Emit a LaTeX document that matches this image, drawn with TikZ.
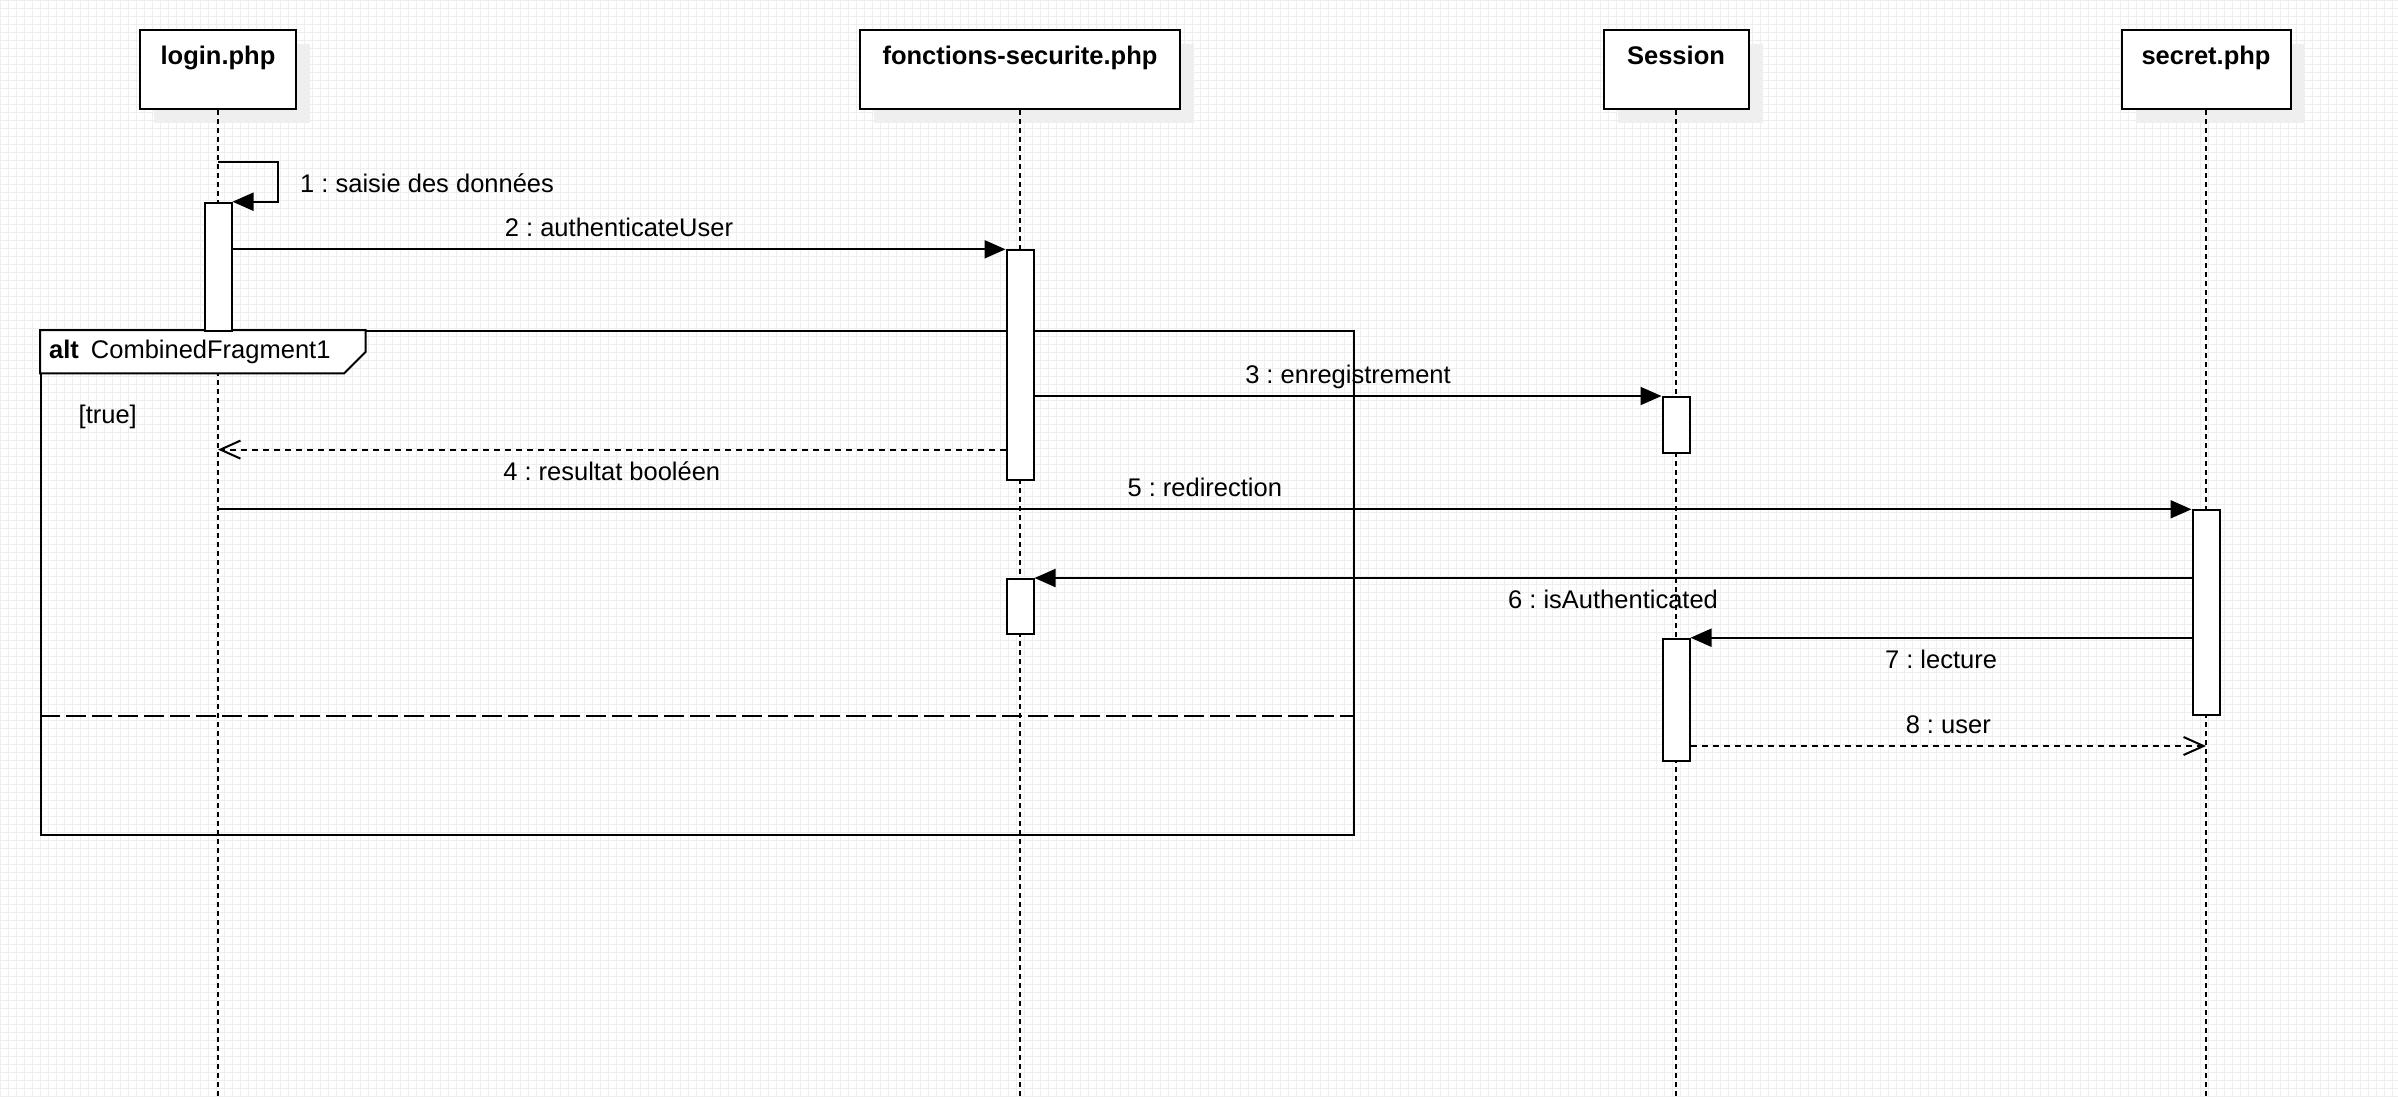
\documentclass[tikz,border=0pt]{standalone}
\usepackage{fontspec}
\setmainfont{Liberation Sans}
\frenchspacing
\usetikzlibrary{arrows.meta,shadows}
\definecolor{gridgray}{HTML}{EEEEEE}
\definecolor{shadowgray}{HTML}{EFEFEF}
\tikzset{
  headbox/.style={draw, fill=white, line width=2pt, inner sep=0pt, anchor=north,
    text height=34pt, text depth=45pt, font=\bfseries\fontsize{25.5}{30}\selectfont,
    general shadow={fill=shadowgray, shadow xshift=14pt, shadow yshift=-14pt}},
  lifeline/.style={line width=2pt, dash pattern=on 5pt off 4pt},
  actbox/.style={draw, fill=white, line width=2pt, inner sep=0pt, minimum width=27pt, anchor=north},
  call/.style={line width=2pt, -{Triangle[length=21pt,width=18pt]}},
  reply/.style={line width=2pt, dash pattern=on 6pt off 5pt, -{Straight Barb[length=20pt,width=18pt]}},
  fragline/.style={line width=2pt},
  lbl/.style={font=\fontsize{25.5}{30}\selectfont, inner xsep=0pt, inner ysep=11.5pt,
    text height=18pt, text depth=0pt},
}
\begin{document}
\begin{tikzpicture}[x=1pt,y=-1pt]
  \useasboundingbox (0,0) rectangle (2398,1096);
  \draw[gridgray, line width=1pt] (0,1096) grid[step=8pt] (2398,0);

  \node[headbox, minimum width=156pt] (login) at (218,29.3) {login.php};
  \node[headbox, minimum width=320pt] (fonct) at (1020,29.3) {fonctions-securite.php};
  \node[headbox, minimum width=145pt] (session) at (1676,29.3) {Session};
  \node[headbox, minimum width=169pt] (secret) at (2206,29.3) {secret.php};
  \coordinate (bottom) at (0,1096);
  \foreach \n in {login,fonct,session,secret}
    \draw[lifeline] (\n.south) -- (\n.south |- bottom);

  \node[fragline, draw, inner sep=0pt, minimum width=1313pt, minimum height=504pt, anchor=north west] (frag) at (40,330) {};
  \draw[fragline, fill=white] (frag.north west) -- ++(325.7,0) -- ++(0,21.7) -- ++(-21.7,21.7) -- ++(-304,0) -- cycle;
  \node[lbl, anchor=base west, inner sep=0pt] (fragname) at (49,358.3) {\textbf{alt}\hspace{12pt}CombinedFragment1};
  \node[lbl, anchor=base west, inner sep=0pt] (guard) at (78.5,423.6) {[true]};
  \draw[fragline, dash pattern=on 20pt off 6pt] (frag.west |- 0,715.7) -- (frag.east |- 0,715.7);

  \node[actbox, minimum height=128.3pt] (la) at (218,201.7) {};
  \node[actbox, minimum height=229.4pt] (fa1) at (1020,249.3) {};
  \node[actbox, minimum height=55.7pt] (sa1) at (1676,396) {};
  \node[actbox, minimum height=204.7pt] (ka) at (2206,509.3) {};
  \node[actbox, minimum height=55pt] (fa2) at (1020,578) {};
  \node[actbox, minimum height=122.3pt] (sa2) at (1676,637.7) {};

  \coordinate (m1) at (218,161.7);
  \draw[call] (m1) -- ++(59.7,0) |- (la.north east);
  \node[lbl, anchor=base west, inner sep=0pt] (t1) at (300,192.5) {1 : saisie des données};
  \draw[call] (la.east |- fa1.north) -- (fa1.north west) node[lbl, midway, above] {2 : authenticateUser};
  \draw[call] (fa1.east |- sa1.north) -- (sa1.north west) node[lbl, midway, above] {3 : enregistrement};
  \coordinate (m4) at (218,449.6);
  \draw[reply] (fa1.west |- m4) -- (m4) node[lbl, midway, below] {4 : resultat booléen};
  \draw[call] (login.south |- ka.north) -- (ka.north west) node[lbl, midway, above] {5 : redirection};
  \draw[call] (ka.west |- fa2.north) -- (fa2.north east) node[lbl, midway, below] {6 : isAuthenticated};
  \draw[call] (ka.west |- sa2.north) -- (sa2.north east) node[lbl, midway, below] {7 : lecture};
  \coordinate (m8) at (2206,746);
  \draw[reply] (sa2.east |- m8) -- (m8) node[lbl, midway, above] {8 : user};
\end{tikzpicture}
\end{document}
